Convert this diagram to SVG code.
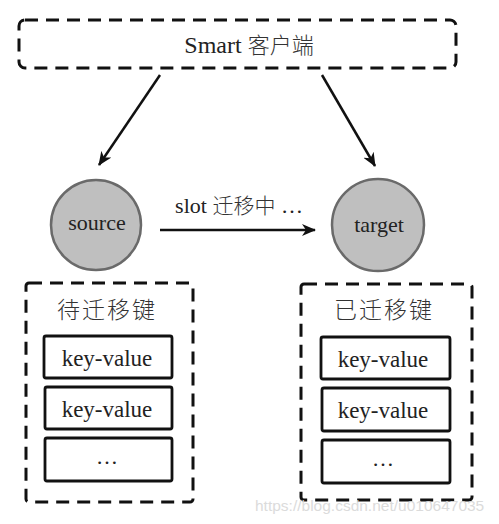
<svg xmlns="http://www.w3.org/2000/svg" width="499" height="524" viewBox="0 0 499 524">
<style>
.dash{fill:none;stroke:#111;stroke-width:3;stroke-dasharray:13 8;stroke-linecap:butt}
.kv{fill:#fff;stroke:#111;stroke-width:2.8}
.node{fill:#bfbfbf;stroke:#6a6a6a;stroke-width:2.5}
.t{font-family:"Liberation Serif","Noto Sans CJK SC",serif;fill:#222;text-anchor:middle}
.cjk{font-family:"Noto Sans CJK SC",sans-serif;fill:#333;text-anchor:middle;font-weight:300}
.edge{stroke:#111;stroke-width:2.5;fill:none}
</style>
<defs>
<marker id="ah" viewBox="0 0 14 12" refX="13" refY="6" markerWidth="14" markerHeight="12" markerUnits="userSpaceOnUse" orient="auto">
<path d="M0,0 L14,6 L0,12 L4,6 Z" fill="#111"/>
</marker>
</defs>
<rect width="499" height="524" fill="#fff"/>
<g id="client">
<rect class="dash" x="19" y="20" width="437" height="48" rx="6"/>
<text class="t" x="249" y="53" font-size="24">Smart <tspan class="cjk" font-size="22">客户端</tspan></text>
</g>
<g id="source">
<circle class="node" cx="96" cy="225" r="45"/>
<text class="t" x="97" y="230" font-size="22">source</text>
</g>
<g id="target">
<circle class="node" cx="378" cy="225" r="46"/>
<text class="t" x="379" y="232" font-size="22">target</text>
</g>
<g id="pending">
<rect class="dash" x="26" y="283" width="167" height="219" rx="3"/>
<text class="cjk" x="107" y="318" font-size="23" letter-spacing="2">待迁移键</text>
<rect class="kv" x="44" y="336" width="128" height="42" rx="2"/>
<text class="t" x="107" y="366" font-size="23">key-value</text>
<rect class="kv" x="45" y="387" width="127" height="42" rx="2"/>
<text class="t" x="107" y="417" font-size="23">key-value</text>
<rect class="kv" x="45" y="438" width="127" height="43" rx="2"/>
<text class="t" x="107" y="464" font-size="22">…</text>
</g>
<g id="migrated">
<rect class="dash" x="301" y="284" width="171" height="216" rx="3"/>
<text class="cjk" x="384" y="318" font-size="23" letter-spacing="2">已迁移键</text>
<rect class="kv" x="321" y="337" width="129" height="42" rx="2"/>
<text class="t" x="383" y="367" font-size="23">key-value</text>
<rect class="kv" x="322" y="388" width="128" height="43" rx="2"/>
<text class="t" x="383" y="418" font-size="23">key-value</text>
<rect class="kv" x="322" y="440" width="128" height="43" rx="2"/>
<text class="t" x="383" y="466" font-size="22">…</text>
</g>
<g id="connectors">
<line class="edge" x1="160" y1="75" x2="99" y2="165" marker-end="url(#ah)"/>
<line class="edge" x1="322" y1="75" x2="375" y2="166" marker-end="url(#ah)"/>
<line class="edge" x1="160" y1="230" x2="315" y2="230" marker-end="url(#ah)"/>
<text class="t" x="239" y="213" font-size="22">slot <tspan class="cjk" font-size="21">迁移中</tspan> …</text>
</g>
<text x="255" y="511" font-family="Liberation Sans,Arial,sans-serif" font-size="15.5" fill="#d8d8d8" opacity="0.9">https://blog.csdn.net/u010647035</text>
</svg>
